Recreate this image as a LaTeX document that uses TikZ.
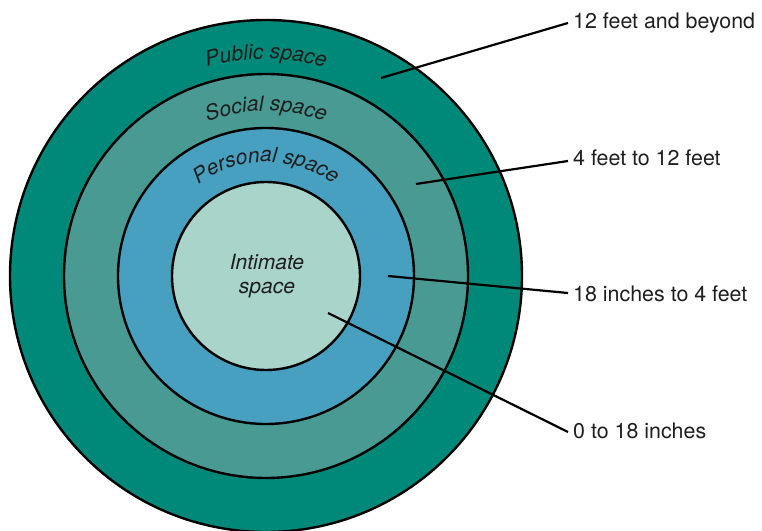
\documentclass[tikz,border=0pt]{standalone}
\usepackage{fontspec}
\setmainfont{TeX Gyre Heros}
\usetikzlibrary{decorations.text,calc}
\definecolor{publicc}{RGB}{0,137,120}
\definecolor{socialc}{RGB}{72,154,146}
\definecolor{personalc}{RGB}{72,160,192}
\definecolor{intimatec}{RGB}{169,212,201}
\definecolor{txt}{RGB}{30,30,30}
\tikzset{
  ring/.style={circle, draw=black, line width=2.4pt, inner sep=0pt},
  conn/.style={draw=black, line width=2.2pt},
  lbl/.style={anchor=base west, inner sep=0pt, text=txt, font=\fontsize{21.4}{24}\selectfont},
  arclbl/.style={decorate, decoration={text along path, text align=center, text color=txt}}
}
\begin{document}
\begin{tikzpicture}[x=1pt,y=1pt]
\useasboundingbox (0,0) rectangle (762,530);
\coordinate (C) at (266,254);
\node[ring, fill=publicc, minimum size=512pt] (pub) at (C) {};
\node[ring, fill=socialc, minimum size=404pt] (soc) at (C) {};
\node[ring, fill=personalc, minimum size=296pt] (per) at (C) {};
\node[ring, fill=intimatec, minimum size=188pt] (int) at (C) {};
\node[align=center, font=\fontsize{21}{24}\selectfont\itshape, text=txt, inner sep=0pt] (inttxt) at (267,254) {Intimate\\space};
% curved labels
\path[arclbl, decoration={text={|\fontsize{21}{24}\selectfont\itshape|Public space}}]
  ($(C)+(150:217)$) arc[start angle=150, end angle=30, radius=217];
\path[arclbl, decoration={text={|\fontsize{21}{24}\selectfont\itshape|Social space}}]
  ($(C)+(150:165)$) arc[start angle=150, end angle=30, radius=165];
\path[arclbl, decoration={text={|\fontsize{21}{24}\selectfont\itshape|Personal space}}]
  ($(C)+(160:114)$) arc[start angle=160, end angle=20, radius=114];
% labels
\node[lbl] (l1) at (573,501) {12 feet and beyond};
\node[lbl] (l2) at (573,364) {4 feet to 12 feet};
\node[lbl] (l3) at (573,228) {18 inches to 4 feet};
\node[lbl] (l4) at (573,92) {0 to 18 inches};
\coordinate (s1) at (381,452);
\coordinate (s2) at (416,346);
\coordinate (s3) at (388,254);
\coordinate (s4) at (328,217);
\draw[conn] (s1) -- ([shift={(-5,6)}]l1.base west);
\draw[conn] (s2) -- ([shift={(-5,5)}]l2.base west);
\draw[conn] (s3) -- ([shift={(-5,9)}]l3.base west);
\draw[conn] (s4) -- ([shift={(-5,6)}]l4.base west);
\end{tikzpicture}
\end{document}
